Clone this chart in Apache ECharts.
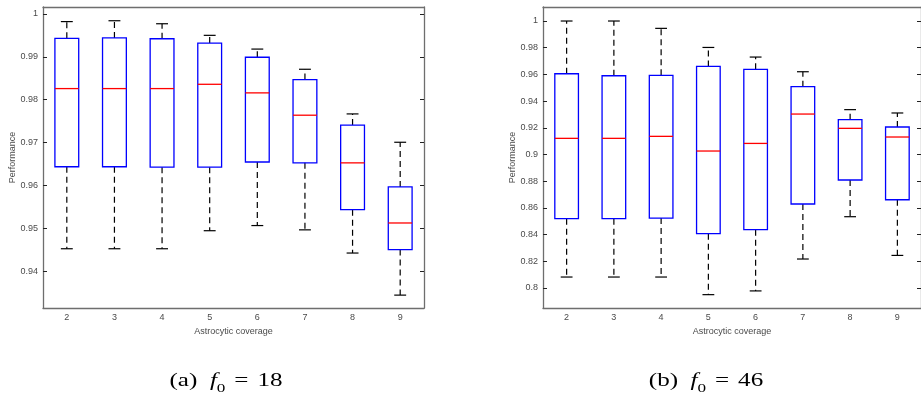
<!DOCTYPE html>
<html>
<head>
<meta charset="utf-8">
<script src="https://cdn.jsdelivr.net/npm/echarts@6/dist/echarts.min.js"></script>
<style>
  html, body { margin: 0; padding: 0; background: #fff; }
  #chart { width: 921px; height: 396px; }
</style>
</head>
<body>
<div id="chart"></div>
<script>
// coverage levels on the x axis
const coverage = ['2', '3', '4', '5', '6', '7', '8', '9'];

// panel (a) f0 = 18 : lower whisker, Q1, median, Q3, upper whisker
const lowA = [0.9453, 0.9453, 0.9453, 0.9495, 0.9507, 0.9497, 0.9443, 0.9345];
const q1A = [0.9644, 0.9644, 0.9643, 0.9643, 0.9655, 0.9653, 0.9544, 0.9451];
const medA = [0.9826, 0.9826, 0.9826, 0.9836, 0.9816, 0.9764, 0.9653, 0.9513];
const q3A = [0.9943, 0.9944, 0.9942, 0.9932, 0.9899, 0.9847, 0.9741, 0.9597];
const highA = [0.9982, 0.9984, 0.9977, 0.9950, 0.9918, 0.9871, 0.9767, 0.9701];
const ticksA = [0.94, 0.95, 0.96, 0.97, 0.98, 0.99, 1];

// panel (b) f0 = 46
const lowB = [0.8082, 0.8082, 0.8082, 0.7950, 0.7978, 0.8217, 0.8534, 0.8244];
const q1B = [0.8519, 0.8519, 0.8524, 0.8407, 0.8437, 0.8629, 0.8809, 0.8661];
const medB = [0.9121, 0.9121, 0.9136, 0.9026, 0.9083, 0.9303, 0.9196, 0.9131];
const q3B = [0.9605, 0.9590, 0.9593, 0.9660, 0.9638, 0.9508, 0.9261, 0.9206];
const highB = [1.0, 1.0, 0.9945, 0.9802, 0.9730, 0.9620, 0.9336, 0.9311];
const ticksB = [0.8, 0.82, 0.84, 0.86, 0.88, 0.9, 0.92, 0.94, 0.96, 0.98, 1];

const chart = echarts.init(document.getElementById('chart'), null, { renderer: 'canvas' });

const rows = (lo, q1, med, q3, hi) =>
  coverage.map((c, i) => [i, lo[i], q1[i], med[i], q3[i], hi[i]]);

// matlab style box: blue box, red median, black dashed whiskers with caps
function renderBox(params, api) {
  const idx = api.value(0);
  const pLo = api.coord([idx, api.value(1)]);
  const pQ1 = api.coord([idx, api.value(2)]);
  const pMed = api.coord([idx, api.value(3)]);
  const pQ3 = api.coord([idx, api.value(4)]);
  const pHi = api.coord([idx, api.value(5)]);
  const bw = api.size([1, 0])[0] * 0.5;
  const x = pMed[0];
  const half = bw / 2;
  const cap = bw / 4;
  const black = { stroke: '#000', lineWidth: 1.2 };
  const dashed = { stroke: '#000', lineWidth: 1.2, lineDash: [6, 4] };
  return {
    type: 'group',
    children: [
      { type: 'line', shape: { x1: x, y1: pQ3[1], x2: x, y2: pHi[1] }, style: dashed },
      { type: 'line', shape: { x1: x, y1: pQ1[1], x2: x, y2: pLo[1] }, style: dashed },
      { type: 'line', shape: { x1: x - cap, y1: pHi[1], x2: x + cap, y2: pHi[1] }, style: black },
      { type: 'line', shape: { x1: x - cap, y1: pLo[1], x2: x + cap, y2: pLo[1] }, style: black },
      { type: 'rect', shape: { x: x - half, y: pQ3[1], width: bw, height: pQ1[1] - pQ3[1] },
        style: { fill: 'none', stroke: '#0000ff', lineWidth: 1.3 } },
      { type: 'line', shape: { x1: x - half, y1: pMed[1], x2: x + half, y2: pMed[1] },
        style: { stroke: '#ff0000', lineWidth: 1.3 } }
    ]
  };
}

const fmt = v => String(+(+v).toFixed(2));
const axisCol = '#6e6e6e';
const labelCol = '#4a4a4a';
const font = 'Liberation Sans, Arial, sans-serif';
const serif = 'Liberation Serif, Times New Roman, serif';

function xAxes(gi) {
  return [
    {
      gridIndex: gi, type: 'category', data: coverage, position: 'bottom',
      name: 'Astrocytic coverage', nameLocation: 'middle', nameGap: 15,
      nameTextStyle: { color: labelCol, fontSize: 9, fontFamily: font },
      axisLine: { lineStyle: { color: axisCol, width: 1.3 } },
      axisTick: { alignWithLabel: true, inside: true, length: 4, lineStyle: { color: '#222' } },
      axisLabel: { color: labelCol, fontSize: 9, fontFamily: font, margin: 5 },
      splitLine: { show: false }
    },
    {
      gridIndex: gi, type: 'category', data: coverage, position: 'top',
      axisLine: { lineStyle: { color: axisCol, width: 1.3 } },
      axisTick: { alignWithLabel: true, inside: true, length: 4, lineStyle: { color: '#222' } },
      axisLabel: { show: false },
      splitLine: { show: false }
    }
  ];
}

function yAxes(gi, min, max, ticks) {
  return [
    {
      gridIndex: gi, type: 'value', min: min, max: max, position: 'left',
      name: 'Performance', nameLocation: 'middle', nameGap: 24, nameRotate: 90,
      nameTextStyle: { color: labelCol, fontSize: 9, fontFamily: font },
      axisLine: { show: true, lineStyle: { color: axisCol, width: 1.3 } },
      axisTick: { show: true, inside: true, length: 4, customValues: ticks, lineStyle: { color: '#222' } },
      axisLabel: { customValues: ticks, formatter: fmt, color: labelCol, fontSize: 9, fontFamily: font, margin: 5 },
      splitLine: { show: false }
    },
    {
      gridIndex: gi, type: 'value', min: min, max: max, position: 'right',
      axisLine: { show: true, lineStyle: { color: axisCol, width: 1.3 } },
      axisTick: { show: true, inside: true, length: 4, customValues: ticks, lineStyle: { color: '#222' } },
      axisLabel: { show: false },
      splitLine: { show: false }
    }
  ];
}

// figure captions, stretched horizontally like the source image
function caption(tag, val, cx) {
  return {
    type: 'text', x: cx, y: 381, scaleX: 1.32,
    style: {
      text: tag + '  {i|f}{s|0} {e|=} ' + val,
      fontFamily: serif, fontSize: 19, fill: '#000',
      align: 'center', verticalAlign: 'middle', lineHeight: 30,
      rich: {
        i: { fontFamily: serif, fontStyle: 'italic', fontSize: 19, lineHeight: 30 },
        s: { fontFamily: serif, fontSize: 13, lineHeight: 13, verticalAlign: 'bottom', padding: [0, 0, 1, 0] },
        e: { fontFamily: serif, fontSize: 19, lineHeight: 30, padding: [0, 2, 0, 2] }
      }
    }
  };
}

const option = {
  backgroundColor: '#fff',
  animation: false,
  grid: [
    { left: 43, top: 7, width: 381, height: 301 },
    { left: 543, top: 7, width: 381, height: 301 }
  ],
  xAxis: [...xAxes(0), ...xAxes(1)],
  yAxis: [...yAxes(0, 0.9315, 1.0016, ticksA), ...yAxes(1, 0.785, 1.0105, ticksB)],
  graphic: [caption('(a)', '18', 226), caption('(b)', '46', 706)],
  series: [
    {
      type: 'custom', xAxisIndex: 0, yAxisIndex: 0,
      renderItem: renderBox, encode: { x: 0, y: [1, 2, 3, 4, 5] },
      data: rows(lowA, q1A, medA, q3A, highA)
    },
    {
      type: 'custom', xAxisIndex: 2, yAxisIndex: 2,
      renderItem: renderBox, encode: { x: 0, y: [1, 2, 3, 4, 5] },
      data: rows(lowB, q1B, medB, q3B, highB)
    }
  ]
};

chart.setOption(option);
</script>
</body>
</html>
